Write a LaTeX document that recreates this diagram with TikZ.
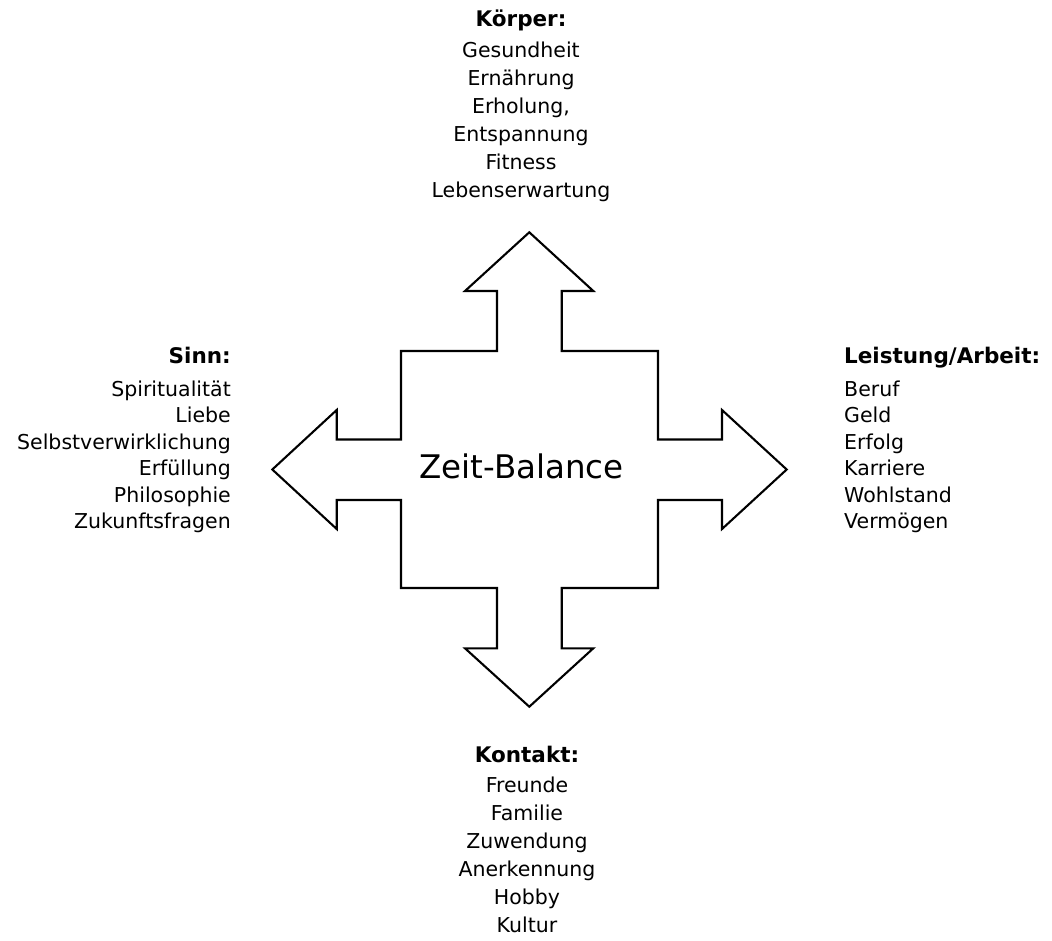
\documentclass[tikz,border=0pt]{standalone}
\usepackage{fontspec}
\setmainfont{DejaVu Sans}
\begin{document}
\begin{tikzpicture}[x=1pt,y=-1pt,
  crossline/.style={draw=black,line width=2.1pt,line join=miter},
  item/.style={inner sep=0pt,font=\fontsize{20.5}{24}\selectfont},
  head/.style={inner sep=0pt,font=\fontsize{21.5}{26}\selectfont\bfseries},
  title/.style={inner sep=0pt,font=\fontsize{32.5}{38}\selectfont}]
\useasboundingbox (0,0) rectangle (1052,940);

% four-way arrow around the central square
\draw[crossline]
  (529.3,232.3) -- (593.3,291) -- (561.7,291) -- (561.7,351)
  -- (658,351) -- (658,439.5) -- (722,439.5) -- (722,410)
  -- (786.7,469.5) -- (722,529) -- (722,500) -- (658,500)
  -- (658,588) -- (561.7,588) -- (561.7,648.3) -- (593.3,648.3)
  -- (529.3,706.7) -- (465,648.3) -- (497,648.3) -- (497,588)
  -- (401,588) -- (401,500) -- (336.7,500) -- (336.7,529)
  -- (272.3,469.5) -- (336.7,410) -- (336.7,439.5) -- (401,439.5)
  -- (401,351) -- (497,351) -- (497,291) -- (465,291) -- cycle;

\node[title,anchor=base] (zb) at (521.5,478) {Zeit-Balance};

% top: Körper
\node[head,anchor=base] (koerper) at (521,26) {Körper:};
\foreach \t [count=\i from 0] in {Gesundheit,Ernährung,{Erholung,},Entspannung,Fitness,Lebenserwartung}
  \node[item,anchor=base] (k\i) at (521,57+28*\i) {\t};

% left: Sinn
\node[head,anchor=base east] (sinn) at (231,363) {Sinn:};
\foreach \t [count=\i from 0] in {Spiritualität,Liebe,Selbstverwirklichung,Erfüllung,Philosophie,Zukunftsfragen}
  \node[item,anchor=base east] (s\i) at (231,396+26.5*\i) {\t};

% right: Leistung/Arbeit
\node[head,anchor=base west] (leistung) at (844,363) {Leistung/Arbeit:};
\foreach \t [count=\i from 0] in {Beruf,Geld,Erfolg,Karriere,Wohlstand,Vermögen}
  \node[item,anchor=base west] (l\i) at (844,396+26.5*\i) {\t};

% bottom: Kontakt
\node[head,anchor=base] (kontakt) at (527,762) {Kontakt:};
\foreach \t [count=\i from 0] in {Freunde,Familie,Zuwendung,Anerkennung,Hobby,Kultur}
  \node[item,anchor=base] (c\i) at (527,792+28*\i) {\t};
\end{tikzpicture}
\end{document}
